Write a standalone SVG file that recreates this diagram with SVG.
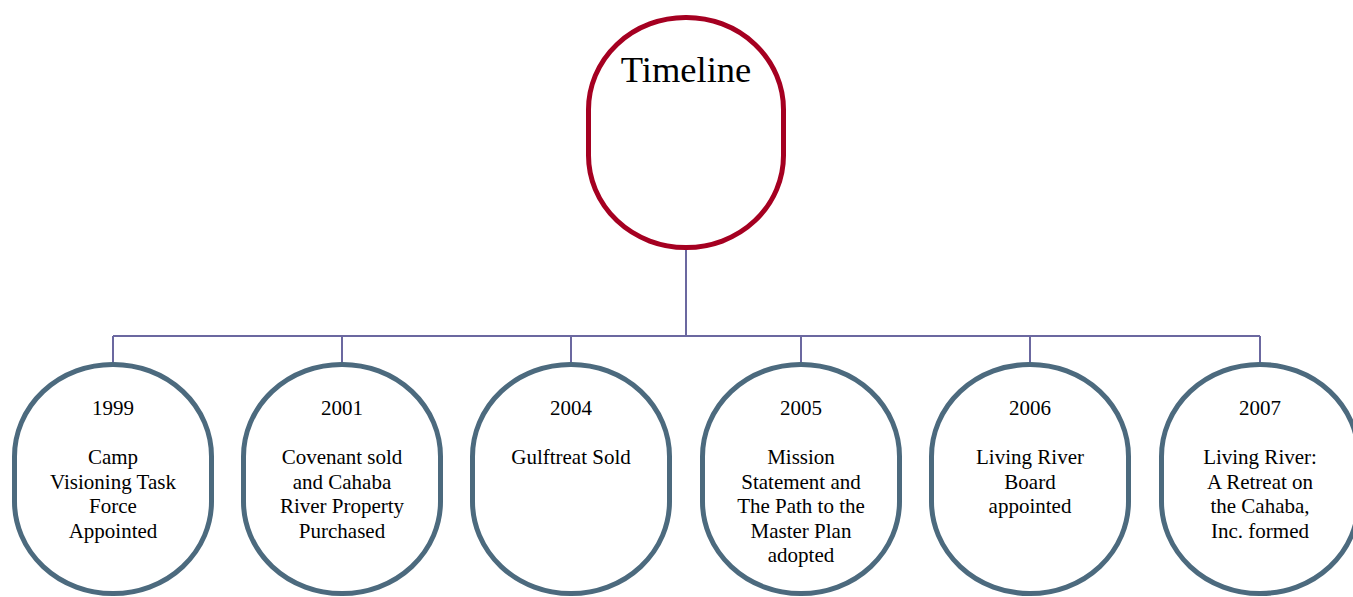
<svg xmlns="http://www.w3.org/2000/svg" width="1353" height="597" viewBox="0 0 1353 597">
<style>
.root{fill:#fff;stroke:#A50021;stroke-width:5}
.node{fill:#fff;stroke:#4C6A7E;stroke-width:5}
.conn{fill:none;stroke:#6B68A0;stroke-width:2}
text{font-family:"Liberation Serif","Times New Roman",serif;fill:#000;text-anchor:middle}
.t{font-size:21px}
.title{font-size:36.5px}
</style>
<rect x="0" y="0" width="1353" height="597" fill="#fff"/>
<g id="connectors">
<path class="conn" d="M686,250 V336 M113,336 H1260 M113,336 V364 M342,336 V364 M571,336 V364 M801,336 V364 M1030,336 V364 M1260,336 V364"/>
</g>
<g id="node-timeline">
<rect class="root" x="588.5" y="17.5" width="195" height="230" rx="97" ry="92"/>
<text class="title" x="686" y="82">Timeline</text>
</g>
<g id="node-1999">
<rect class="node" x="14.5" y="364.5" width="197" height="229" rx="98" ry="92"/>
<text class="t" x="113" y="415">1999</text>
<text class="t" x="113" y="464">Camp</text>
<text class="t" x="113" y="488.5">Visioning Task</text>
<text class="t" x="113" y="513">Force</text>
<text class="t" x="113" y="537.5">Appointed</text>
</g>
<g id="node-2001">
<rect class="node" x="243.5" y="364.5" width="197" height="229" rx="98" ry="92"/>
<text class="t" x="342" y="415">2001</text>
<text class="t" x="342" y="464">Covenant sold</text>
<text class="t" x="342" y="488.5">and Cahaba</text>
<text class="t" x="342" y="513">River Property</text>
<text class="t" x="342" y="537.5">Purchased</text>
</g>
<g id="node-2004">
<rect class="node" x="472.5" y="364.5" width="197" height="229" rx="98" ry="92"/>
<text class="t" x="571" y="415">2004</text>
<text class="t" x="571" y="464">Gulftreat Sold</text>
</g>
<g id="node-2005">
<rect class="node" x="702.5" y="364.5" width="197" height="229" rx="98" ry="92"/>
<text class="t" x="801" y="415">2005</text>
<text class="t" x="801" y="464">Mission</text>
<text class="t" x="801" y="488.5">Statement and</text>
<text class="t" x="801" y="513">The Path to the</text>
<text class="t" x="801" y="537.5">Master Plan</text>
<text class="t" x="801" y="562">adopted</text>
</g>
<g id="node-2006">
<rect class="node" x="931.5" y="364.5" width="197" height="229" rx="98" ry="92"/>
<text class="t" x="1030" y="415">2006</text>
<text class="t" x="1030" y="464">Living River</text>
<text class="t" x="1030" y="488.5">Board</text>
<text class="t" x="1030" y="513">appointed</text>
</g>
<g id="node-2007">
<rect class="node" x="1161.5" y="364.5" width="197" height="229" rx="98" ry="92"/>
<text class="t" x="1260" y="415">2007</text>
<text class="t" x="1260" y="464">Living River:</text>
<text class="t" x="1260" y="488.5">A Retreat on</text>
<text class="t" x="1260" y="513">the Cahaba,</text>
<text class="t" x="1260" y="537.5">Inc. formed</text>
</g>
</svg>
